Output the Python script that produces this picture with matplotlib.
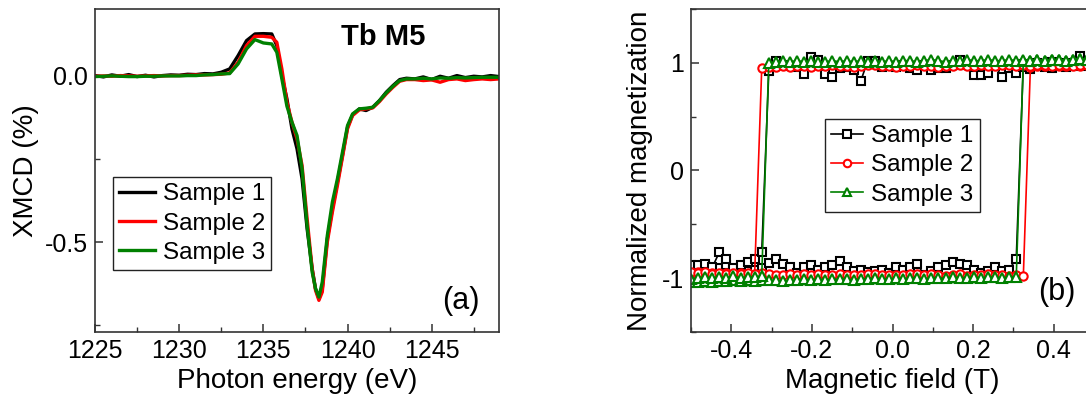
import numpy as np
import matplotlib
matplotlib.use("Agg")
import matplotlib.pyplot as plt
from matplotlib.ticker import MultipleLocator, FormatStrFormatter

plt.rcParams['font.family'] = ['Liberation Sans', 'DejaVu Sans']
plt.rcParams['axes.unicode_minus'] = False

# ---- panel (a): Tb M5 XMCD spectra ----
energy = [1225, 1225.5, 1226, 1226.5, 1227, 1227.5, 1228, 1228.5, 1229, 1229.5,
          1230, 1230.5, 1231, 1231.5, 1232, 1232.5,
          1233, 1233.5, 1234, 1234.5, 1235, 1235.5, 1235.8, 1236.1, 1236.4, 1236.7,
          1237.0, 1237.3, 1237.6, 1237.9, 1238.1, 1238.3, 1238.5, 1238.8, 1239.1, 1239.4,
          1239.7, 1240.0, 1240.3, 1240.7, 1241.1, 1241.5, 1241.9, 1242.3, 1242.7, 1243.1,
          1243.5, 1244, 1244.5, 1245, 1245.5, 1246, 1246.5, 1247, 1247.5, 1248, 1248.5, 1249]

xmcd_s1 = [0.0, -0.004, 0.002, -0.002, 0.003, -0.003, 0.001, -0.004, 0.0, 0.002,
           0.001, 0.004, 0.003, 0.006, 0.005, 0.01,
           0.02, 0.06, 0.105, 0.125, 0.126, 0.125, 0.09, 0.0, -0.07, -0.16,
           -0.22, -0.31, -0.46, -0.58, -0.64, -0.67, -0.64, -0.49, -0.40, -0.32,
           -0.24, -0.155, -0.118, -0.10, -0.105, -0.095, -0.075, -0.05, -0.03, -0.012,
           -0.008, -0.01, -0.004, -0.012, -0.002, -0.008, 0.0, -0.006, -0.002, -0.004, 0.0, -0.003]

xmcd_s2 = [-0.002, -0.001, -0.002, 0.0, -0.001, -0.002, -0.001, 0.0, -0.001, 0.0,
           0.0, 0.001, 0.002, 0.002, 0.003, 0.004,
           0.008, 0.04, 0.09, 0.118, 0.118, 0.115, 0.10, 0.02, -0.08, -0.14,
           -0.19, -0.27, -0.43, -0.58, -0.645, -0.675, -0.65, -0.50, -0.41, -0.33,
           -0.245, -0.16, -0.12, -0.103, -0.10, -0.097, -0.078, -0.055, -0.035, -0.017,
           -0.012, -0.012, -0.015, -0.013, -0.02, -0.012, -0.01, -0.015, -0.012, -0.01, -0.012, -0.01]

xmcd_s3 = [-0.003, -0.002, -0.001, -0.002, -0.003, -0.003, -0.002, -0.002, -0.001, -0.001,
           -0.001, 0.0, 0.0, 0.002, 0.003, 0.005,
           0.006, 0.035, 0.08, 0.108, 0.098, 0.095, 0.07, -0.01, -0.092, -0.14,
           -0.18, -0.28, -0.45, -0.59, -0.64, -0.665, -0.62, -0.48, -0.38, -0.31,
           -0.23, -0.15, -0.115, -0.10, -0.098, -0.095, -0.075, -0.052, -0.032, -0.015,
           -0.01, -0.01, -0.008, -0.01, -0.007, -0.008, -0.006, -0.007, -0.006, -0.005, -0.005, -0.005]

# ---- panel (b): hysteresis loops, field grid from -0.5 T to 0.5 T ----
field = np.linspace(-0.5, 0.5, 58)

# ascending branch (field increasing)
m_s1_up = [-0.90, -0.92, -0.89, -0.93, -0.91, -0.88, -0.92, -0.90, -0.93, -0.92,
           -0.91, -0.86, -0.82, -0.87, -0.90, -0.95, -0.90, -0.88, -0.92, -0.90,
           -0.88, -0.84, -0.90, -0.93, -0.92, -0.94, -0.93, -0.92, -0.95, -0.90,
           -0.92, -0.90, -0.87, -0.97, -0.93, -0.90, -0.88, -0.85, -0.87, -0.88,
           -0.92, -0.95, -0.93, -0.90, -0.93, -0.92, -0.82,
           0.99, 0.97, 1.00, 0.98, 1.01, 0.99, 1.00, 0.98, 1.02, 1.00, 1.01]
# descending branch, listed in the same field order
m_s1_down = [-0.88, -0.875, -0.87, -0.90, -0.76, -0.82, -0.91, -0.88, -0.85, -0.82, -0.76,
             0.92, 1.02, 0.98, 0.97, 0.96, 0.90, 1.05, 1.03, 0.90, 0.87,
             0.95, 0.96, 0.93, 0.83, 1.02, 1.02, 0.96, 0.97, 0.96, 0.98,
             0.95, 0.93, 0.98, 0.93, 0.95, 0.95, 0.98, 1.03, 0.98, 0.89,
             0.89, 0.91, 0.97, 0.87, 0.95, 0.91, 0.96, 0.94, 0.97, 0.96,
             0.95, 0.98, 0.96, 0.97, 1.06, 0.97, 0.99]

m_s2_up = [-0.95, -0.94, -0.96, -0.95, -0.97, -0.95, -0.96, -0.95, -0.96, -0.96,
           -0.95, -0.96, -0.97, -0.97, -0.96, -0.97, -0.96, -0.97, -0.96, -0.97,
           -0.97, -0.96, -0.97, -0.97, -0.97, -0.96, -0.96, -0.97, -0.97, -0.97,
           -0.97, -0.96, -0.96, -0.97, -0.96, -0.97, -0.98, -0.97, -0.96, -0.98,
           -0.97, -0.97, -0.96, -0.97, -0.97, -0.98, -0.97, -0.98,
           0.96, 0.97, 0.97, 0.98, 0.97, 0.97, 0.98, 0.97, 0.98, 0.97]
m_s2_down = [-0.94, -0.95, -0.94, -0.96, -0.95, -0.96, -0.95, -0.96, -0.95, -0.96,
             0.95, 0.96, 0.96, 0.97, 0.96, 0.97, 0.97, 0.96, 0.97, 0.97,
             0.98, 0.97, 0.97, 0.96, 0.97, 0.98, 0.98, 0.97, 0.97, 0.96,
             0.97, 0.97, 0.98, 0.97, 0.97, 0.96, 0.97, 0.97, 0.98, 0.97,
             0.97, 0.98, 0.97, 0.97, 0.98, 0.98, 0.97, 0.98, 0.97, 0.98,
             0.98, 0.97, 0.98, 0.98, 0.97, 0.98, 0.98, 0.98]

m_s3_up = [-1.04, -1.04, -1.03, -1.04, -1.03, -1.03, -1.02, -1.03, -1.02, -1.03,
           -1.02, -1.02, -1.02, -1.03, -1.02, -1.02, -1.01, -1.02, -1.01, -1.02,
           -1.01, -1.01, -1.01, -1.02, -1.01, -1.01, -1.00, -1.01, -1.01, -1.00,
           -1.01, -1.00, -1.00, -1.01, -1.00, -1.00, -1.00, -0.99, -1.00, -1.00,
           -0.99, -1.00, -0.99, -0.99, -1.00, -0.99, -0.99,
           1.02, 1.02, 1.03, 1.02, 1.03, 1.03, 1.02, 1.03, 1.04, 1.03, 1.04]
m_s3_down = [-1.01, -1.00, -0.99, -1.00, -0.99, -1.00, -0.98, -1.00, -0.99, -0.99, -0.98,
             1.00, 1.01, 1.02, 1.01, 1.02, 1.01, 1.02, 1.01, 1.01, 1.02,
             1.01, 1.02, 1.01, 1.02, 1.01, 1.02, 1.01, 1.02, 1.01, 1.02,
             1.02, 1.01, 1.02, 1.03, 1.02, 1.01, 1.02, 1.02, 1.03, 1.02,
             1.02, 1.03, 1.02, 1.02, 1.03, 1.02, 1.03, 1.02, 1.03, 1.02,
             1.03, 1.03, 1.02, 1.03, 1.04, 1.03, 1.04]

labels = ['Sample 1', 'Sample 2', 'Sample 3']
colors = ['#000000', '#ff0000', '#008000']
markers = ['s', 'o', '^']

fig = plt.figure(figsize=(10.86, 4.03), dpi=100)
ax1 = fig.add_axes([0.0875, 0.1762, 0.372, 0.8015])
ax2 = fig.add_axes([0.6363, 0.1762, 0.3711, 0.8015])

tick_fs = 18
leg_fs = 17.5
label_fs = 20

for y, c, lab in zip([xmcd_s1, xmcd_s2, xmcd_s3], colors, labels):
    ax1.plot(energy, y, color=c, lw=2.4, label=lab)

ax1.set_xlim(1225, 1249)
ax1.set_ylim(-0.77, 0.2)
ax1.xaxis.set_major_locator(MultipleLocator(5))
ax1.xaxis.set_minor_locator(MultipleLocator(2.5))
ax1.yaxis.set_major_locator(MultipleLocator(0.5))
ax1.yaxis.set_minor_locator(MultipleLocator(0.25))
ax1.yaxis.set_major_formatter(FormatStrFormatter('%.1f'))
ax1.set_xlabel('Photon energy (eV)', fontsize=label_fs, labelpad=4)
ax1.set_ylabel('XMCD (%)', fontsize=label_fs, labelpad=4)
ax1.text(0.713, 0.913, 'Tb M5', transform=ax1.transAxes, fontsize=21,
         fontweight='bold', ha='center', va='center')
ax1.text(0.905, 0.095, '(a)', transform=ax1.transAxes, fontsize=22,
         ha='center', va='center')
leg1 = ax1.legend(loc='lower left', bbox_to_anchor=(0.045, 0.192), borderaxespad=0,
                  fontsize=leg_fs, frameon=True, fancybox=False, framealpha=1,
                  edgecolor='#222222', handlelength=1.45, handletextpad=0.35,
                  labelspacing=0.3, borderpad=0.25)
leg1.get_frame().set_linewidth(1.0)

branches = [(m_s1_up, m_s1_down), (m_s2_up, m_s2_down), (m_s3_up, m_s3_down)]
for (up, down), c, mk, lab in zip(branches, colors, markers, labels):
    ms = 6.5 if mk == '^' else 6
    ax2.plot(field, up, color=c, lw=1.2, marker=mk, ms=ms, mfc='white',
             mec=c, mew=1.5, label=lab)
    ax2.plot(field, down, color=c, lw=1.2, marker=mk, ms=ms, mfc='white',
             mec=c, mew=1.5)

ax2.set_xlim(-0.5, 0.5)
ax2.set_ylim(-1.5, 1.5)
ax2.xaxis.set_major_locator(MultipleLocator(0.2))
ax2.xaxis.set_minor_locator(MultipleLocator(0.1))
ax2.yaxis.set_major_locator(MultipleLocator(1))
ax2.yaxis.set_minor_locator(MultipleLocator(0.5))
ax2.xaxis.set_major_formatter(FormatStrFormatter('%.1f'))
ax2.set_xlabel('Magnetic field (T)', fontsize=label_fs, labelpad=4)
ax2.set_ylabel('Normalized magnetization', fontsize=label_fs, labelpad=6)
ax2.text(0.908, 0.124, '(b)', transform=ax2.transAxes, fontsize=22,
         ha='center', va='center')
leg2 = ax2.legend(loc='lower left', bbox_to_anchor=(0.333, 0.372), borderaxespad=0,
                  fontsize=leg_fs, frameon=True, fancybox=False, framealpha=1,
                  edgecolor='#222222', handlelength=1.3, handletextpad=0.35,
                  labelspacing=0.3, borderpad=0.25, markerscale=0.9)
leg2.get_frame().set_linewidth(1.0)

for ax in (ax1, ax2):
    ax.tick_params(which='both', direction='in', labelsize=tick_fs,
                   top=False, right=False, color='#333333', pad=5)
    ax.tick_params(which='major', length=6, width=1.1)
    ax.tick_params(which='minor', length=3.5, width=1.0)
    for sp in ax.spines.values():
        sp.set_linewidth(1.2)
        sp.set_color('#333333')

fig.savefig('out.png', dpi=100)
